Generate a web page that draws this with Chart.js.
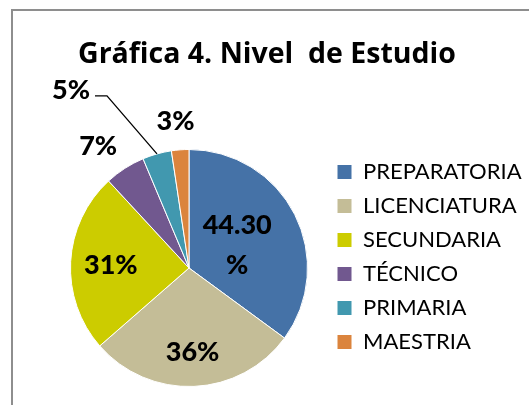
<!DOCTYPE html>
<html>
<head>
<meta charset="utf-8">
<script src="https://cdn.jsdelivr.net/npm/chart.js@4.4.0/dist/chart.umd.min.js"></script>
<style>
body{margin:0;background:#fff;}
#wrap{position:relative;width:529px;height:405px;overflow:hidden;}
#frame{position:absolute;left:11px;top:9px;width:600px;height:500px;border-left:2px solid #8e8e8e;border-top:2px solid #8e8e8e;}
canvas{position:absolute;left:0;top:0;}
</style>
</head>
<body>
<div id="wrap"><div id="frame"></div><canvas id="myChart" width="529" height="405"></canvas></div>
<script>
'use strict';
const titleText = 'Gráfica 4. Nivel  de Estudio';
const categories = ['PREPARATORIA','LICENCIATURA','SECUNDARIA','TÉCNICO','PRIMARIA','MAESTRIA'];
const values = [44.3, 36, 31, 7, 5, 3];
const valueLabels = [['44.30','%'], ['36%'], ['31%'], ['7%'], ['5%'], ['3%']];
const colors = ['#4572A7','#C4BD97','#CCCC00','#71588F','#4198AF','#DB843D'];

// where each slice label sits (fraction of radius, extra angle in degrees)
const labelStyle = [
  {r:0.45, da:1.5},
  {r:0.71, da:0},
  {r:0.66, da:-1},
  {r:1.28, da:-4},
  {leader:true},
  {r:1.24, da:-1}
];

const labelPlugin = {
  id: 'sliceLabels',
  afterDatasetsDraw(chart) {
    const ctx = chart.ctx;
    const meta = chart.getDatasetMeta(0);
    ctx.save();
    ctx.font = '900 27px Lato';
    ctx.fillStyle = '#000';
    ctx.strokeStyle = '#000';
    meta.data.forEach((arc, i) => {
      const p = arc.getProps(['x','y','startAngle','endAngle','outerRadius'], true);
      const mid = (p.startAngle + p.endAngle) / 2;
      const st = labelStyle[i];
      if (st.leader) {
        // leader line out to the upper left
        const ex = p.x + p.outerRadius * Math.cos(mid);
        const ey = p.y + p.outerRadius * Math.sin(mid);
        const bx = ex - 50, by = ey - 58;
        ctx.lineWidth = 1.3;
        ctx.beginPath();
        ctx.moveTo(ex, ey);
        ctx.lineTo(bx, by);
        ctx.lineTo(bx - 12, by);
        ctx.stroke();
        ctx.textAlign = 'right';
        ctx.textBaseline = 'middle';
        ctx.fillText(valueLabels[i][0], bx - 17, by - 6);
        return;
      }
      const a = mid + st.da * Math.PI / 180;
      const cx = p.x + p.outerRadius * st.r * Math.cos(a);
      const cy = p.y + p.outerRadius * st.r * Math.sin(a);
      const lines = valueLabels[i];
      const lh = 40;
      ctx.textAlign = 'center';
      ctx.textBaseline = 'middle';
      lines.forEach((t, k) => {
        ctx.fillText(t, cx, cy + (k - (lines.length - 1) / 2) * lh);
      });
    });
    ctx.restore();
  },
  afterDraw(chart) {
    const ctx = chart.ctx;
    ctx.save();
    ctx.font = 'bold 28.5px "Open Sans"';
    ctx.fillStyle = '#000';
    ctx.textAlign = 'center';
    ctx.textBaseline = 'alphabetic';
    ctx.fillText(titleText, 267, 63);
    ctx.restore();
  }
};

const ctx = document.getElementById('myChart').getContext('2d');
const chart = new Chart(ctx, {
  type: 'pie',
  data: {
    labels: categories,
    datasets: [{
      data: values,
      backgroundColor: colors,
      borderColor: '#fff',
      borderWidth: 1
    }]
  },
  options: {
    responsive: false,
    animation: false,
    layout: {padding: {left: 53, top: 149, right: 0, bottom: 18}},
    plugins: {
      legend: {
        position: 'right',
        align: 'start',
        maxWidth: 204,
        labels: {
          boxWidth: 15,
          boxHeight: 15,
          padding: 12,
          color: '#000',
          font: {family: 'Lato', size: 22}
        }
      },
      tooltip: {enabled: false}
    }
  },
  plugins: [labelPlugin]
});
</script>
</body>
</html>
